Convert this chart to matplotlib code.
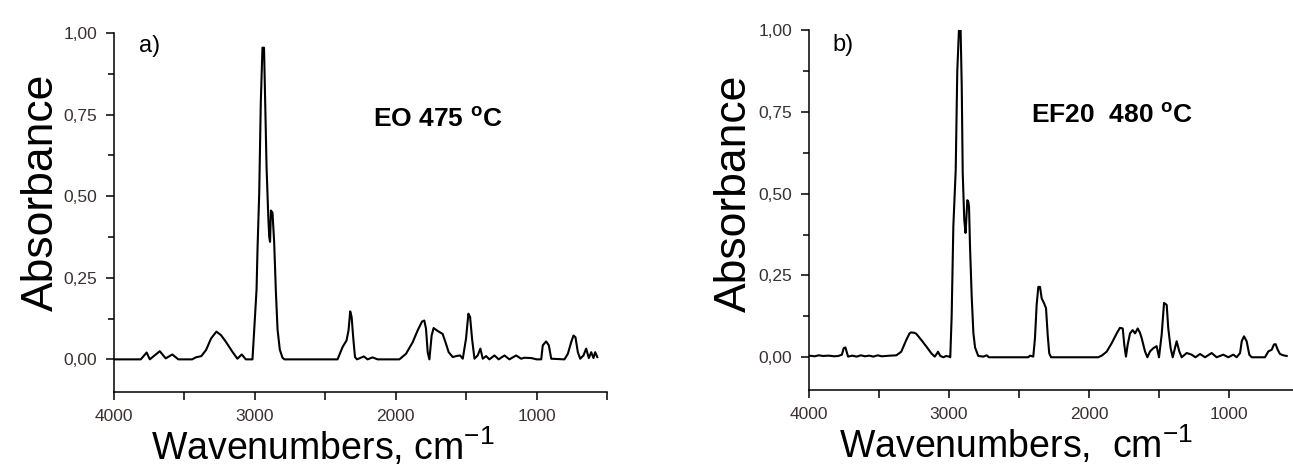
import matplotlib.pyplot as plt
from matplotlib.ticker import FixedLocator, FixedFormatter, MultipleLocator

plt.rcParams['font.family'] = ['Liberation Sans', 'DejaVu Sans']
plt.rcParams['mathtext.fontset'] = 'custom'
plt.rcParams['mathtext.rm'] = 'Liberation Sans'
plt.rcParams['mathtext.bf'] = 'Liberation Sans:bold'

# spectrum a) EO 475 C  (wavenumber, absorbance)
wn_a = [4000, 3810, 3768, 3746, 3675, 3633, 3586, 3543, 3445, 3420, 3380, 3346,
        3311, 3273, 3240, 3206, 3159, 3124, 3093, 3064, 3017, 3005, 2988, 2981,
        2969, 2958, 2946, 2935, 2929, 2917, 2905, 2898, 2892, 2886, 2875, 2863,
        2851, 2839, 2823, 2804, 2790, 2413, 2377, 2349, 2335, 2323, 2313, 2301,
        2289, 2275, 2226, 2200, 2164, 2129, 2098, 1974, 1927, 1879, 1844, 1813,
        1797, 1785, 1773, 1761, 1745, 1731, 1702, 1667, 1647, 1624, 1595, 1571,
        1543, 1524, 1501, 1484, 1472, 1458, 1441, 1418, 1399, 1382, 1358, 1335,
        1299, 1269, 1228, 1193, 1145, 1110, 1086, 1038, 999, 967, 956, 932, 913,
        896, 802, 778, 754, 738, 724, 707, 690, 667, 648, 629, 612, 596, 584, 569]
abs_a = [0.0, 0.0, 0.021, 0.0, 0.025, 0.003, 0.015, 0.0, 0.0, 0.006, 0.01, 0.029,
         0.064, 0.085, 0.074, 0.054, 0.023, 0.002, 0.015, 0.0, 0.0, 0.087, 0.214, 0.34,
         0.51, 0.785, 0.955, 0.955, 0.836, 0.59, 0.44, 0.375, 0.36, 0.456, 0.45, 0.36,
         0.21, 0.092, 0.03, 0.005, 0.0, 0.0, 0.038, 0.058, 0.089, 0.147, 0.13, 0.063,
         0.007, 0.0, 0.009, 0.0, 0.006, 0.0, 0.0, 0.0, 0.017, 0.053, 0.089, 0.116,
         0.119, 0.094, 0.022, 0.0, 0.073, 0.096, 0.087, 0.078, 0.053, 0.022, 0.007, 0.01,
         0.012, 0.002, 0.063, 0.14, 0.13, 0.063, 0.002, 0.012, 0.033, 0.002, 0.01, 0.0,
         0.012, 0.0, 0.012, 0.0, 0.012, 0.002, 0.005, 0.004, 0.0, 0.0, 0.043, 0.055, 0.043,
         0.002, 0.0, 0.017, 0.053, 0.073, 0.068, 0.022, 0.002, 0.012, 0.033, 0.004, 0.022, 0.004, 0.022, 0.007]

# spectrum b) EF20 480 C
wn_b = [4000, 3960, 3930, 3900, 3860, 3820, 3790, 3765, 3752, 3740, 3728, 3721,
        3690, 3660, 3630, 3600, 3570, 3540, 3510, 3480, 3450, 3420, 3376, 3341,
        3305, 3282, 3270, 3250, 3234, 3198, 3162, 3126, 3102, 3085, 3079, 3062,
        3040, 3020, 3000, 2991, 2981, 2969, 2952, 2941, 2929, 2917, 2909, 2902,
        2891, 2882, 2879, 2869, 2862, 2857, 2850, 2838, 2826, 2814, 2791, 2755,
        2731, 2715, 2434, 2421, 2398, 2386, 2374, 2362, 2350, 2338, 2321, 2307,
        2295, 2284, 2271, 1934, 1909, 1874, 1838, 1802, 1779, 1759, 1748, 1736,
        1724, 1707, 1688, 1671, 1652, 1636, 1624, 1600, 1583, 1564, 1540, 1517,
        1500, 1481, 1464, 1445, 1434, 1417, 1402, 1386, 1374, 1355, 1338, 1302,
        1267, 1240, 1207, 1171, 1124, 1088, 1041, 1005, 969, 945, 921, 909, 893,
        874, 855, 838, 743, 719, 695, 679, 667, 652, 636, 612, 588]
abs_b = [0.005, 0.003, 0.006, 0.004, 0.005, 0.003, 0.004, 0.008, 0.028, 0.03, 0.012, 0.002,
         0.005, 0.002, 0.006, 0.003, 0.005, 0.002, 0.006, 0.003, 0.004, 0.005, 0.006, 0.017,
         0.053, 0.073, 0.076, 0.075, 0.072, 0.053, 0.033, 0.012, 0.002, 0.012, 0.017, 0.004,
         0.0, 0.004, 0.002, 0.0, 0.126, 0.40, 0.573, 0.873, 1.0, 1.0, 0.827, 0.563,
         0.42, 0.38, 0.40, 0.48, 0.475, 0.46, 0.34, 0.187, 0.075, 0.03, 0.004, 0.002,
         0.006, 0.0, 0.0, 0.005, 0.002, 0.058, 0.16, 0.215, 0.215, 0.18, 0.165, 0.15,
         0.068, 0.012, 0.0, 0.0, 0.005, 0.017, 0.043, 0.073, 0.09, 0.088, 0.038, 0.002,
         0.038, 0.073, 0.083, 0.073, 0.088, 0.075, 0.059, 0.018, 0.0, 0.018, 0.028, 0.034,
         0.0, 0.069, 0.166, 0.16, 0.089, 0.028, 0.0, 0.028, 0.049, 0.018, 0.0, 0.013,
         0.008, 0.0, 0.01, 0.0, 0.013, 0.0, 0.008, 0.0, 0.008, 0.0, 0.013, 0.049, 0.064,
         0.049, 0.008, 0.0, 0.0, 0.018, 0.023, 0.039, 0.04, 0.023, 0.01, 0.006, 0.004]

ytick_values = [0.0, 0.25, 0.5, 0.75, 1.0]
ytick_labels = ['0,00', '0,25', '0,50', '0,75', '1,00']
xtick_values = [4000, 3000, 2000, 1000]
xtick_labels = ['4000', '3000', '2000', '1000']
xminor_values = [3500, 2500, 1500, 500]

TICK_COLOR = '#3b3030'


def style_axes(ax):
    ax.set_xlim(4000, 500)
    ax.set_ylim(-0.1, 1.0)
    ax.spines['top'].set_visible(False)
    ax.spines['right'].set_visible(False)
    for s in ('left', 'bottom'):
        ax.spines[s].set_linewidth(1.1)
    ax.yaxis.set_major_locator(FixedLocator(ytick_values))
    ax.yaxis.set_major_formatter(FixedFormatter(ytick_labels))
    ax.yaxis.set_minor_locator(MultipleLocator(0.125))
    ax.xaxis.set_major_locator(FixedLocator(xtick_values))
    ax.xaxis.set_major_formatter(FixedFormatter(xtick_labels))
    ax.xaxis.set_minor_locator(FixedLocator(xminor_values))
    ax.tick_params(which='major', direction='out', length=6, width=1.1,
                   labelsize=12.5, labelcolor=TICK_COLOR)
    ax.tick_params(which='minor', direction='out', length=4, width=1.1)
    ax.tick_params(axis='x', which='both', length=6, pad=6)
    ax.tick_params(axis='y', which='major', pad=6)


def plot_panel(ax, wn, ab, letter, letter_xy, note, note_xy, xlabel, xlab_x, ylab_x, ylab_y):
    ax.plot(wn, ab, color='black', lw=1.5)
    style_axes(ax)
    ax.text(letter_xy[0], letter_xy[1], letter, fontsize=17, ha='center', va='center')
    ax.text(note_xy[0], note_xy[1], note, fontsize=19, fontweight='bold',
            ha='center', va='center')
    ax.text(xlab_x, -0.19, xlabel, fontsize=27, ha='center', va='baseline',
            transform=ax.transAxes)
    ax.text(ylab_x, ylab_y, 'Absorbance', fontsize=32, rotation=90,
            ha='center', va='center', transform=ax.transAxes)


fig = plt.figure(figsize=(12.93, 4.68), dpi=100)
ax_a = fig.add_axes([114 / 1293, 76 / 468, 493 / 1293, 359 / 468])
ax_b = fig.add_axes([809 / 1293, 78 / 468, 490 / 1293, 360 / 468])

plot_panel(ax_a, wn_a, abs_a, 'a)', (3745, 0.96), r'EO 475 $^{\mathbf{o}}$C', (1700, 0.735),
           r'Wavenumbers, cm$^{-1}$', 0.424, -0.148, 0.557)
plot_panel(ax_b, wn_b, abs_b, 'b)', (3757, 0.955), r'EF20  480 $^{\mathbf{o}}$C', (1836, 0.738),
           r'Wavenumbers,  cm$^{-1}$', 0.422, -0.153, 0.545)

plt.savefig('out.png', dpi=100)
plt.close()
